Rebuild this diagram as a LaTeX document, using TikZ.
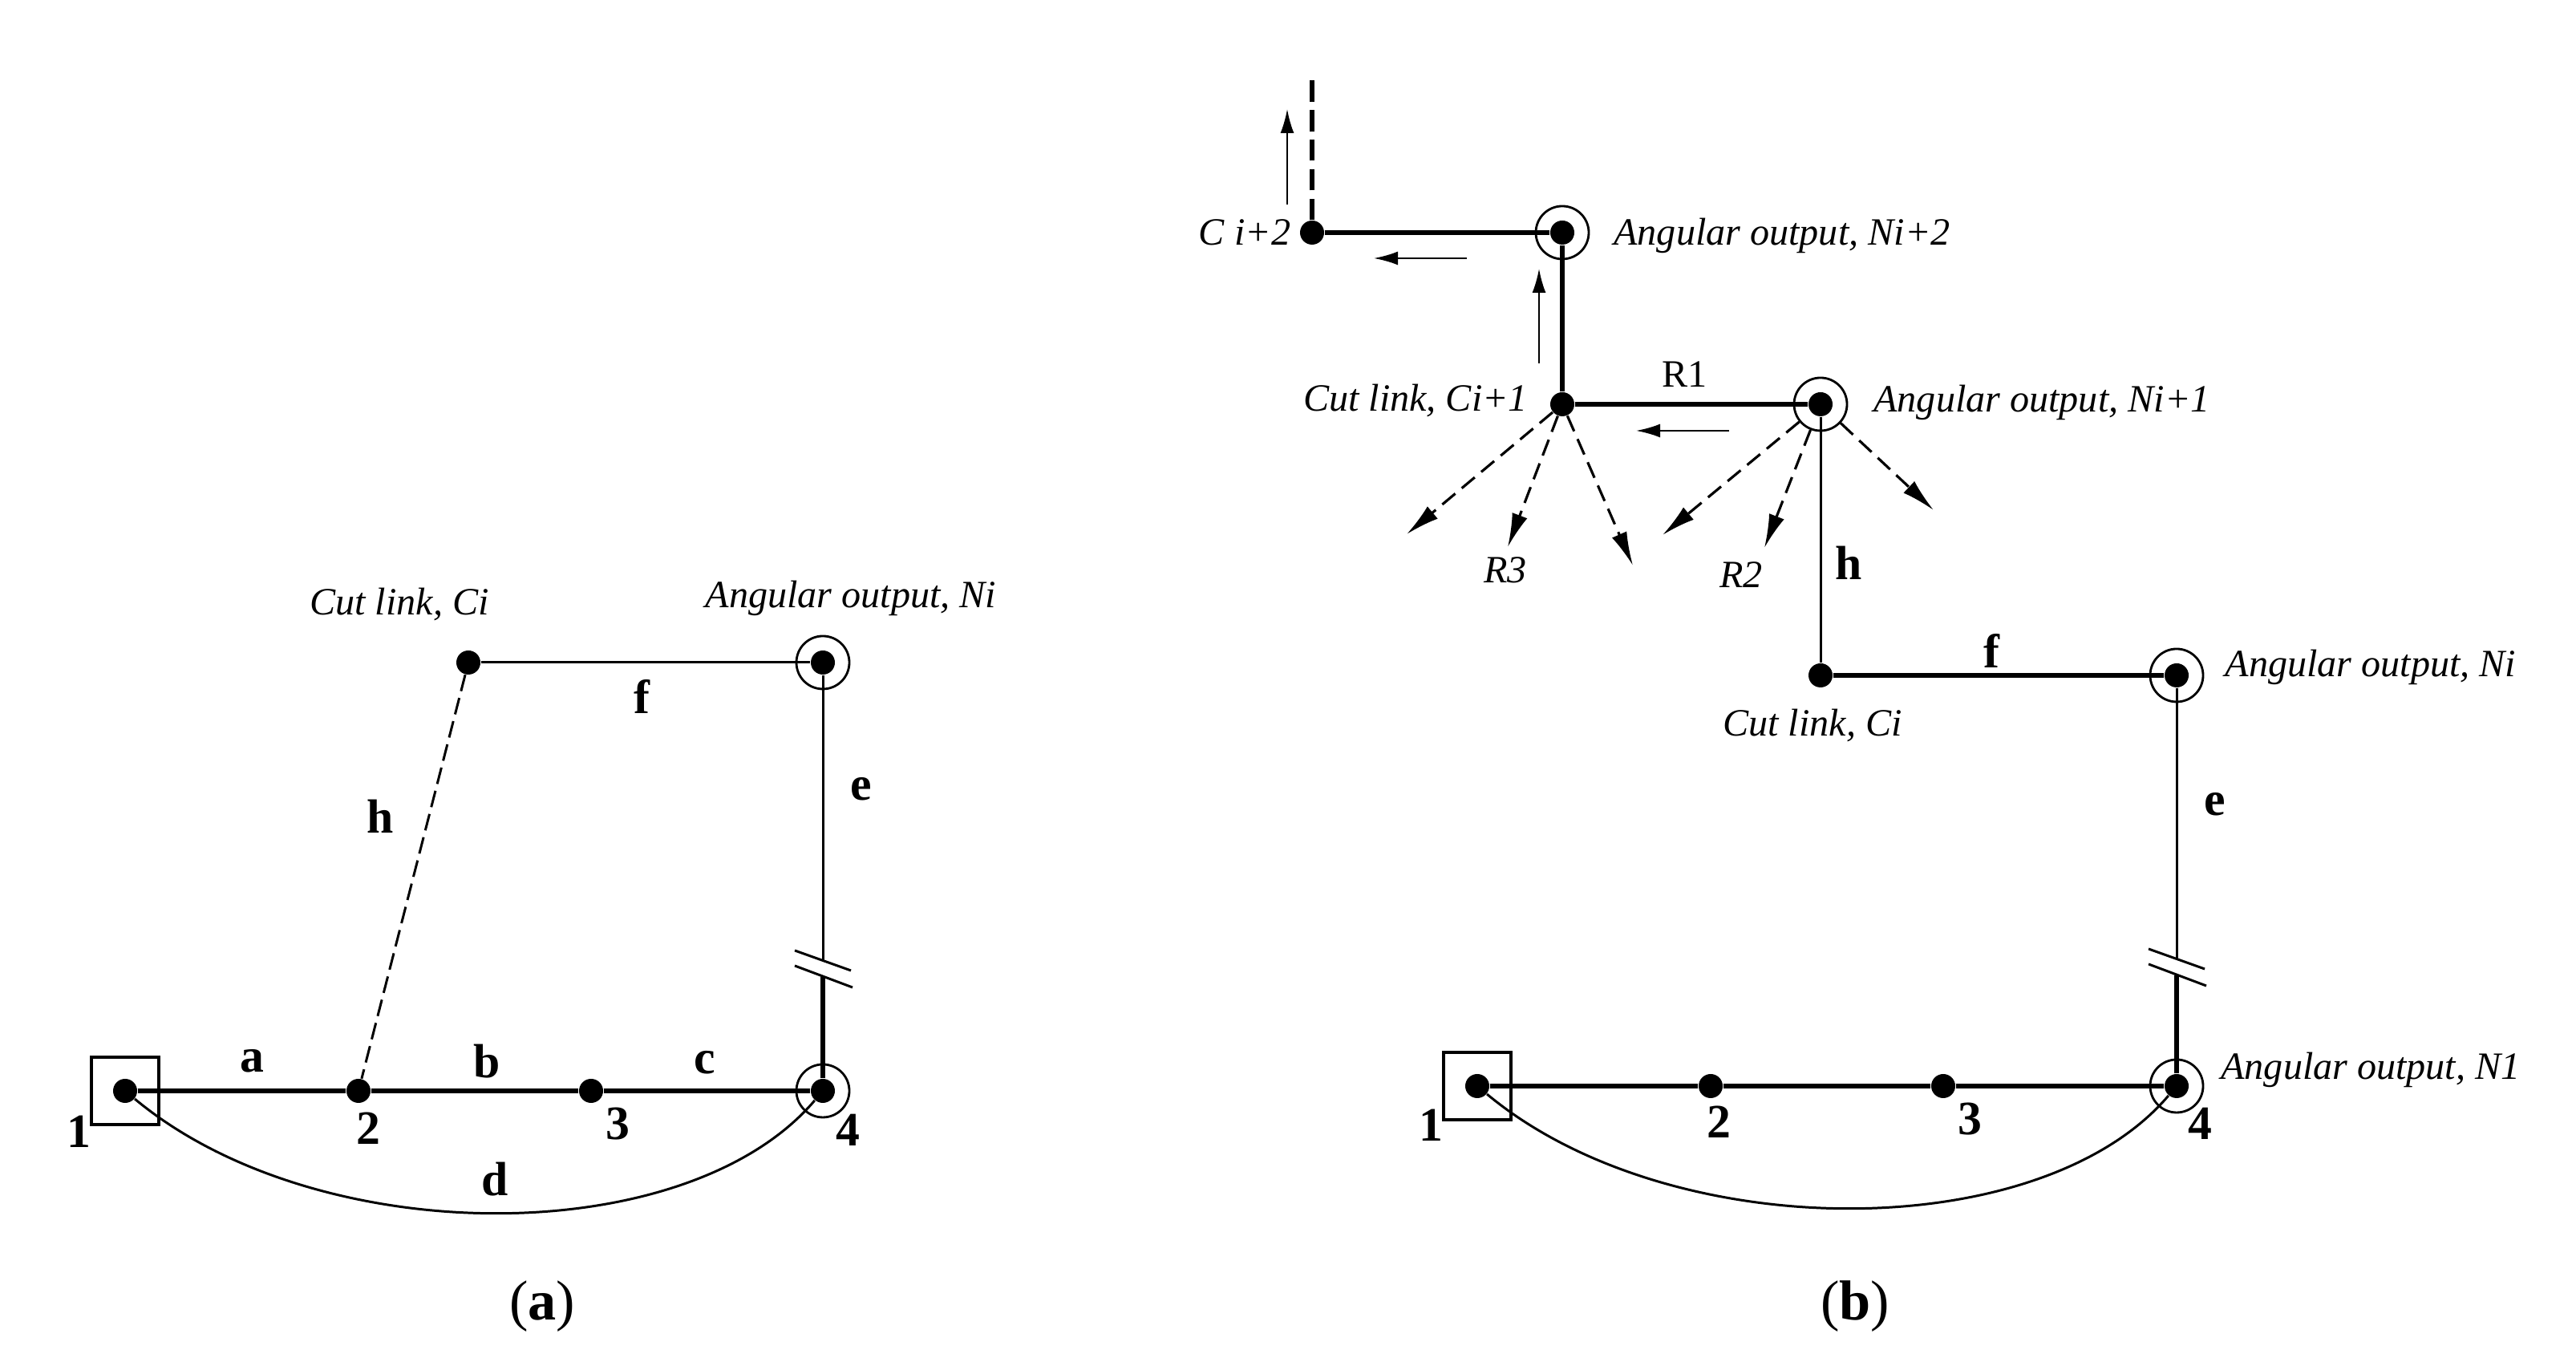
\documentclass[tikz,border=0pt]{standalone}
\usepackage{fontspec}
\setmainfont{Liberation Serif}
\usetikzlibrary{arrows.meta,positioning}

\begin{document}
\begin{tikzpicture}[
  on grid,
  dot/.style={circle,fill=black,minimum size=.3cm,inner sep=0pt},
  ring/.style={circle,draw,line width=.8pt,minimum size=.66cm,inner sep=0pt},
  basebox/.style={draw,line width=1.3pt,minimum size=.84cm,inner sep=0pt},
  lbl/.style={font=\fontsize{17}{17}\selectfont\bfseries,inner sep=0pt},
  outlbl/.style={font=\fontsize{13.7}{15}\selectfont\itshape,inner sep=0pt},
  rlbl/.style={font=\fontsize{13.7}{15}\selectfont,inner sep=0pt},
  caplbl/.style={font=\fontsize{20}{22}\selectfont,inner sep=0pt},
  thicklink/.style={line width=1.8pt},
  thinlink/.style={line width=.85pt},
  search/.style={-{Latex[length=.42cm,width=.2cm]},line width=.9pt,dash pattern=on 6pt off 3pt},
  flow/.style={-{Latex[length=.3cm,width=.17cm]},line width=.7pt}
]
\useasboundingbox (0,0) rectangle (32.12,16.98);

% (a)
\node[dot] (a1) at (1.56,3.38) {};
\node[dot,right=2.91cm of a1] (a2) {};
\node[dot,right=2.90cm of a2] (a3) {};
\node[dot,right=2.89cm of a3] (a4) {};
\node[dot,above=5.34cm of a4] (aNi) {};
\node[dot,left=4.42cm of aNi] (aCi) {};
\node[basebox] (aBase) at (a1) {};
\node[ring] (aRing4) at (a4) {};
\node[ring] (aRingNi) at (aNi) {};
\coordinate[above=1.42cm of a4] (aBrkLow);
\coordinate[above=1.63cm of a4] (aBrkUp);

\node[lbl,below left=.51cm and .58cm of a1] (aN1) {1};
\node[lbl,below right=.47cm and .12cm of a2] (aN2) {2};
\node[lbl,below right=.41cm and .33cm of a3] (aN3) {3};
\node[lbl,below right=.49cm and .31cm of a4] (aN4) {4};
\node[outlbl,above left=.72cm and .86cm of aCi] (aCiName) {Cut link, Ci};
\node[outlbl,above right=.80cm and .35cm of aNi] (aNiName) {Angular output, Ni};

\draw[thicklink] (a1)--node[lbl,above=.2cm,pos=.55]{a}(a2);
\draw[thicklink] (a2)--node[lbl,above=.13cm,pos=.56]{b}(a3);
\draw[thicklink] (a3)--node[lbl,above=.18cm,pos=.49]{c}(a4);
\draw[thinlink] (a1) .. controls +(2.4,-2) and +(-1.7,-2) .. node[lbl,above=.2cm,pos=.5]{d} (a4);
\draw[thinlink] (aCi)--node[lbl,below=.2cm,pos=.49]{f}(aNi);
\draw[thinlink] (aNi)--node[lbl,right=.33cm,pos=.4]{e}(aBrkUp);
\draw[thicklink] (aBrkLow)--(a4);
\draw[thinlink,dash pattern=on 6pt off 2.5pt] (aCi)--node[lbl,left=.43cm,pos=.35]{h}(a2);
\draw[thinlink] (aBrkUp) ++(-.35,.12) -- ++(.7,-.25);
\draw[thinlink] (aBrkLow) ++(-.35,.14) -- ++(.72,-.27);

% (b)
\node[dot] (b1) at (18.42,3.44) {};
\node[dot,right=2.91cm of b1] (b2) {};
\node[dot,right=2.90cm of b2] (b3) {};
\node[dot,right=2.91cm of b3] (b4) {};
\node[dot,above=5.12cm of b4] (bNi) {};
\node[dot,left=4.44cm of bNi] (bCi) {};
\node[dot,above=3.38cm of bCi] (bNiA) {};
\node[dot,left=3.22cm of bNiA] (bCiA) {};
\node[dot,above=2.14cm of bCiA] (bNiB) {};
\node[dot,left=3.12cm of bNiB] (bCiB) {};
\node[basebox] (bBase) at (b1) {};
\node[ring] (bRing4) at (b4) {};
\node[ring] (bRingNi) at (bNi) {};
\node[ring] (bRingA) at (bNiA) {};
\node[ring] (bRingB) at (bNiB) {};
\coordinate[above=2.0cm of bCiB] (bTop);
\coordinate[above=1.38cm of b4] (bBrkLow);
\coordinate[above=1.59cm of b4] (bBrkUp);

\coordinate[below left=1.62cm and 1.94cm of bCiA] (tipA1);
\coordinate[below left=1.78cm and .68cm of bCiA] (tipA2);
\coordinate[below right=2.01cm and .88cm of bCiA] (tipA3);
\coordinate[below left=1.63cm and 1.97cm of bNiA] (tipB1);
\coordinate[below left=1.79cm and .70cm of bNiA] (tipB2);
\coordinate[below right=1.32cm and 1.41cm of bNiA] (tipB3);

\coordinate[above left=.35cm and .31cm of bCiB] (up1s);
\coordinate[above left=1.54cm and .31cm of bCiB] (up1e);
\coordinate[below left=.32cm and 1.19cm of bNiB] (left1s);
\coordinate[below left=.32cm and 2.35cm of bNiB] (left1e);
\coordinate[above left=.51cm and .29cm of bCiA] (up2s);
\coordinate[above left=1.69cm and .29cm of bCiA] (up2e);
\coordinate[below left=.33cm and 1.14cm of bNiA] (left2s);
\coordinate[below left=.33cm and 2.30cm of bNiA] (left2e);

\node[lbl,below left=.49cm and .58cm of b1] (bN1) {1};
\node[lbl,below right=.45cm and .10cm of b2] (bN2) {2};
\node[lbl,below right=.41cm and .33cm of b3] (bN3) {3};
\node[lbl,below right=.47cm and .29cm of b4] (bN4) {4};
\node[outlbl,left=.84cm of bCiB] (bCiBName) {C i+2};
\node[outlbl,below right=.04cm and 2.74cm of bNiB] (bNiBName) {Angular output, Ni+2};
\node[outlbl,above left=.04cm and 1.83cm of bCiA] (bCiAName) {Cut link, Ci+1};
\node[outlbl,above right=.02cm and 2.76cm of bNiA] (bNiAName) {Angular output, Ni+1};
\node[outlbl,below left=2.07cm and .71cm of bCiA] (bR3) {R3};
\node[outlbl,below left=2.13cm and .99cm of bNiA] (bR2) {R2};
\node[outlbl,above right=.10cm and 2.42cm of bNi] (bNiName) {Angular output, Ni};
\node[outlbl,below left=.63cm and .10cm of bCi] (bCiName) {Cut link, Ci};
\node[outlbl,above right=.20cm and 2.42cm of b4] (bN1Name) {Angular output, N1};

\draw[thicklink] (b1)--(b2);
\draw[thicklink] (b2)--(b3);
\draw[thicklink] (b3)--(b4);
\draw[thinlink] (b1) .. controls +(2.4,-2) and +(-1.7,-2) .. (b4);
\draw[thinlink] (bNi)--node[lbl,right=.33cm,pos=.43]{e}(bBrkUp);
\draw[thicklink] (bBrkLow)--(b4);
\draw[thinlink] (bBrkUp) ++(-.35,.12) -- ++(.7,-.25);
\draw[thinlink] (bBrkLow) ++(-.35,.14) -- ++(.72,-.27);
\draw[thicklink] (bCi)--node[lbl,above=.06cm,pos=.48]{f}(bNi);
\draw[thinlink] (bCi)--node[lbl,right=.17cm,pos=.405]{h}(bNiA);
\draw[thicklink] (bCiA)--node[rlbl,above=.18cm,pos=.47]{R1}(bNiA);
\draw[thicklink] (bCiA)--(bNiB);
\draw[thicklink] (bCiB)--(bNiB);
\draw[thicklink,dash pattern=on 7.5pt off 3pt] (bCiB)--(bTop);

\draw[search] (bCiA)--(tipA1);
\draw[search] (bCiA)--(tipA2);
\draw[search] (bCiA)--(tipA3);
\draw[search] (bRingA)--(tipB1);
\draw[search] (bRingA)--(tipB2);
\draw[search] (bRingA)--(tipB3);

\draw[flow] (up1s)--(up1e);
\draw[flow] (left1s)--(left1e);
\draw[flow] (up2s)--(up2e);
\draw[flow] (left2s)--(left2e);

\node[caplbl] (capA) at (6.76,.69) {(\textbf{a})};
\node[caplbl] (capB) at (23.13,.69) {(\textbf{b})};
\end{tikzpicture}
\end{document}
